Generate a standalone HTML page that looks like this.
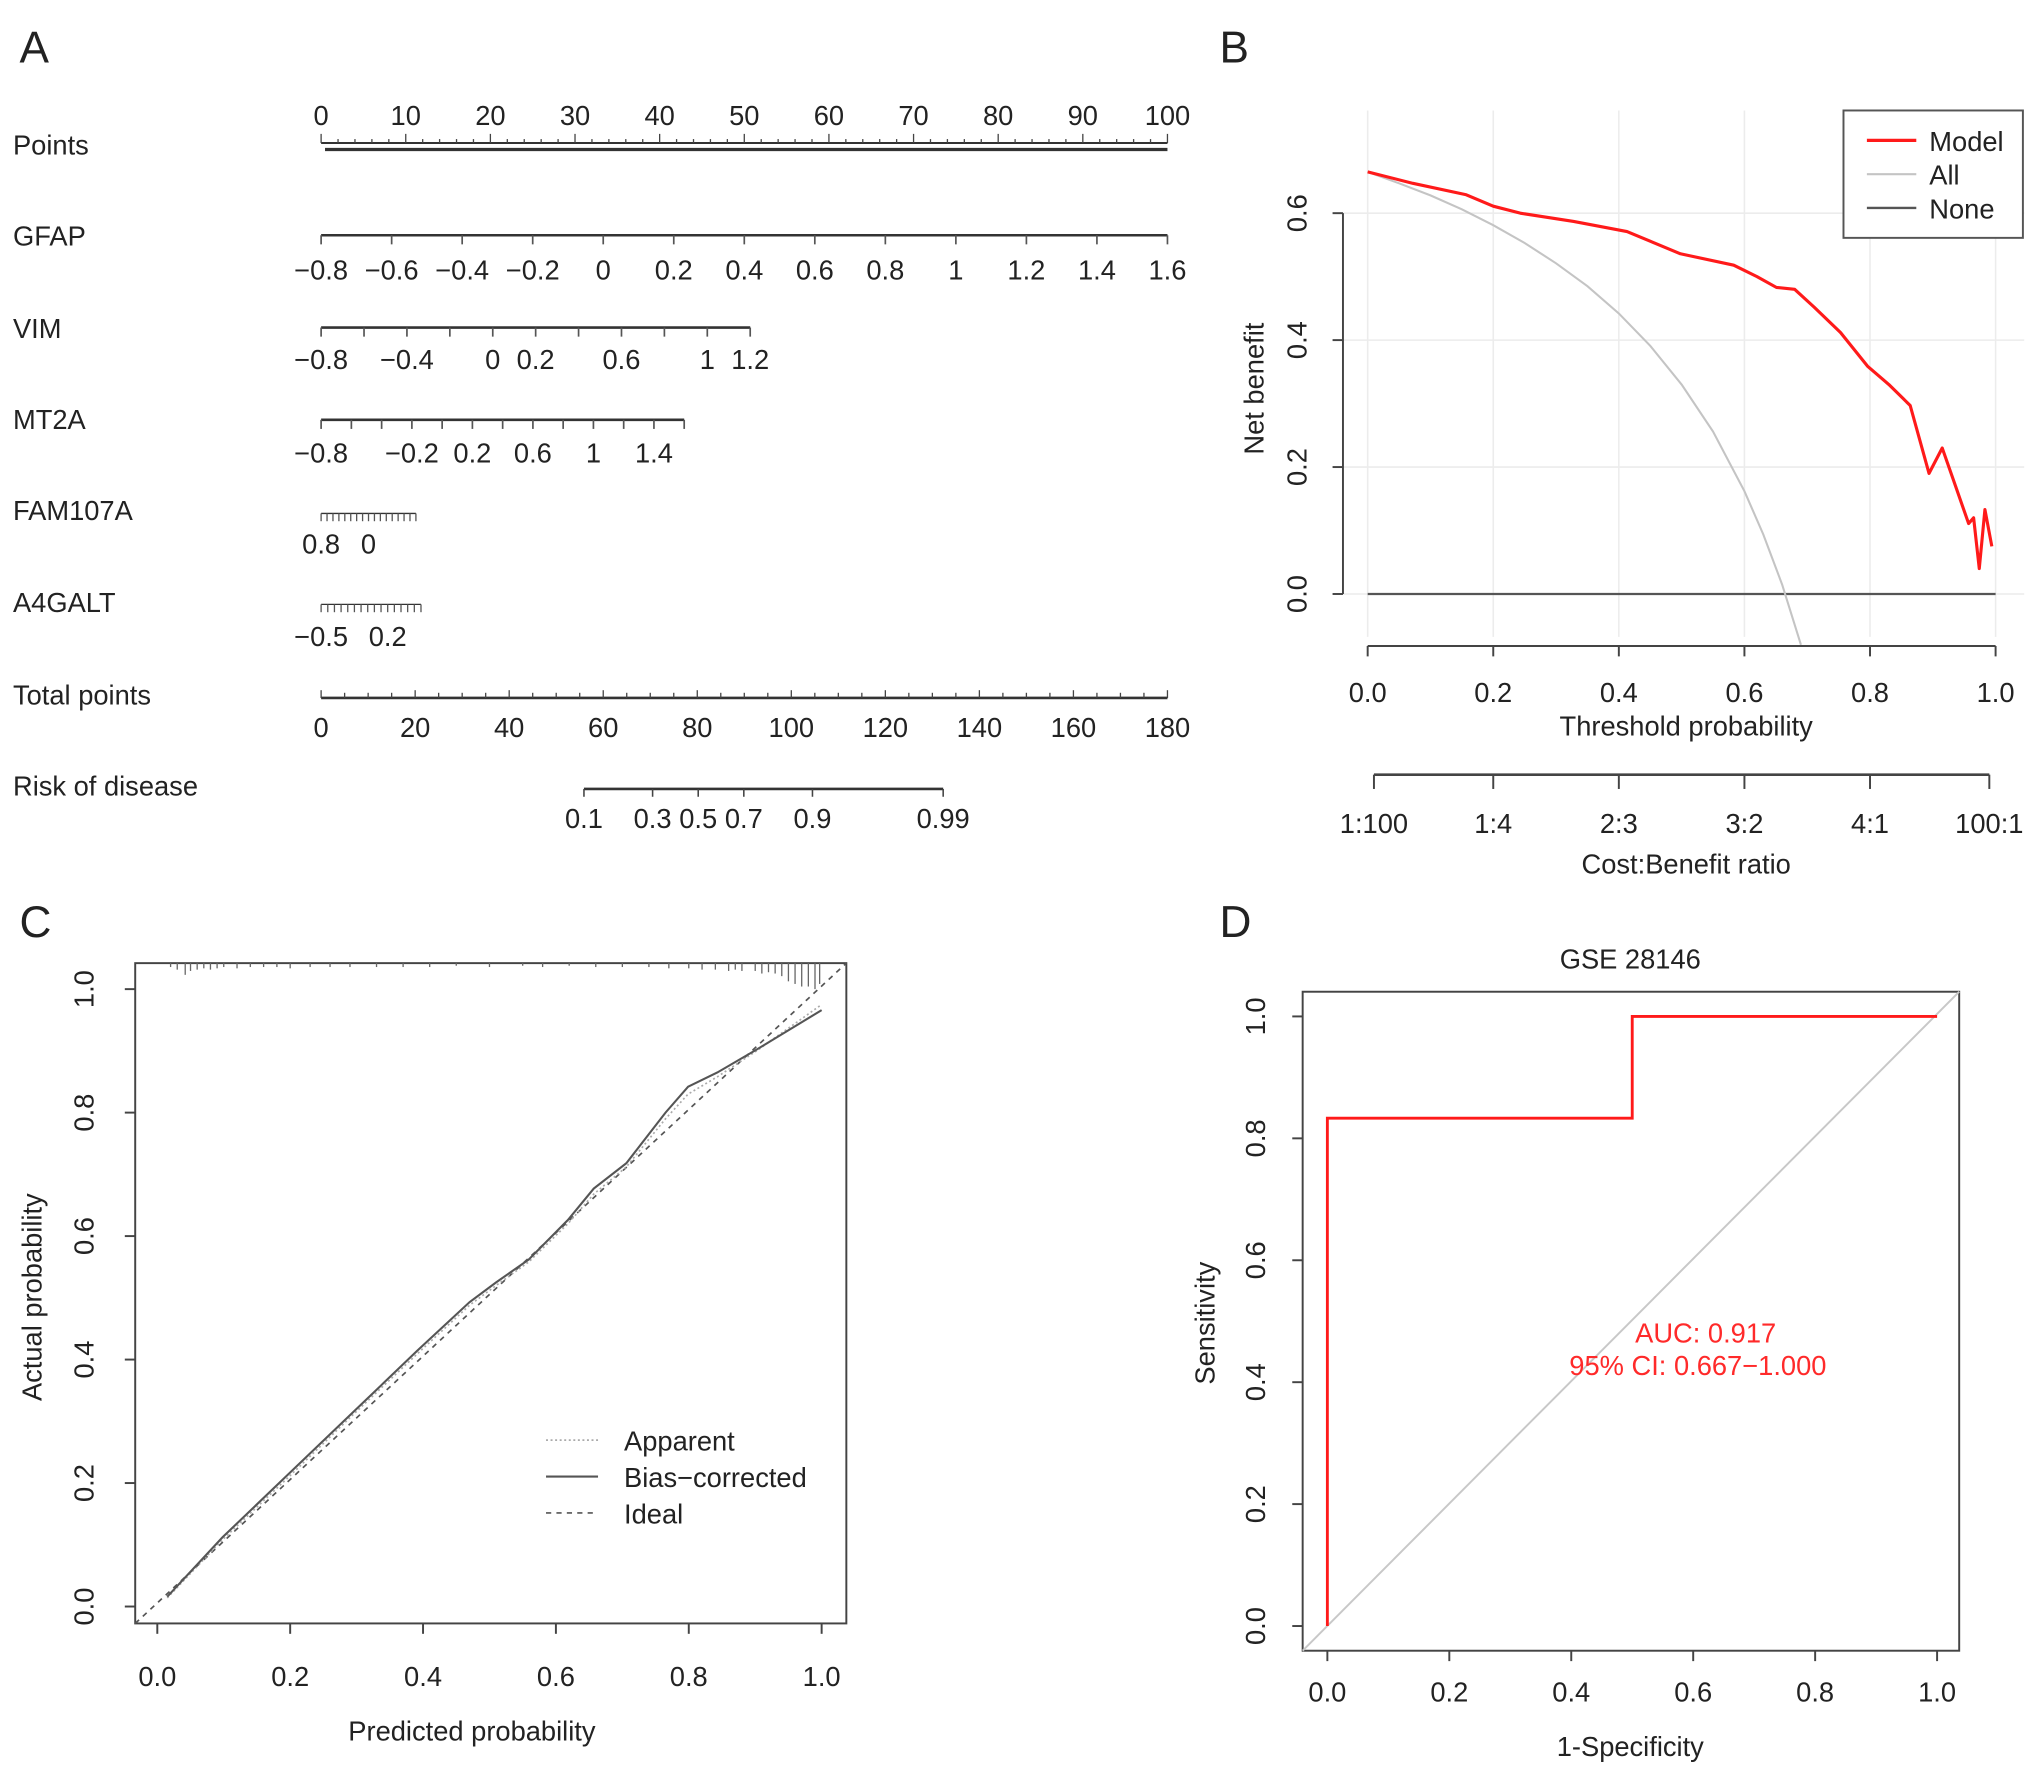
<!DOCTYPE html>
<html><head><meta charset="utf-8"><style>
html,body{margin:0;padding:0;background:#fff;}
svg{display:block;font-family:"Liberation Sans",Arial,sans-serif;}
</style></head>
<body>
<svg id="fig" xmlns="http://www.w3.org/2000/svg" width="2032" height="1769" viewBox="0 0 1563 1361" preserveAspectRatio="none">
<rect x="0" y="0" width="1563" height="1361" fill="#fff"/>
</svg>
<script>
// ---------- Panel A: nomogram data ----------
const pointsTicks=[0,10,20,30,40,50,60,70,80,90,100];
const gfapLabels=[-0.8,-0.6,-0.4,-0.2,0,0.2,0.4,0.6,0.8,1,1.2,1.4,1.6];
const gfapRange=[-0.8,1.6];
const gfapPoints=[0,100];
const vimLabels=[-0.8,-0.4,0,0.2,0.6,1,1.2];
const vimRange=[-0.8,1.2];
const vimPoints=[0,50.7];
const mt2aLabels=[-0.8,-0.2,0.2,0.6,1,1.4];
const mt2aRange=[-0.8,1.6];
const mt2aPoints=[0,42.9];
const famLabels=[0.8,0];
const famRange=[0.8,-0.8];
const famPoints=[0,11.2];
const a4Labels=[-0.5,0.2];
const a4Range=[-0.5,0.55];
const a4Points=[0,11.8];
const totalTicks=[0,20,40,60,80,100,120,140,160,180];
const riskLabels=["0.1","0.3","0.5","0.7","0.9","0.99"];
const riskTotals=[55.9,70.5,80.2,89.9,104.5,132.3];

// ---------- Panel B: decision curve data ----------
const dcaThresh=[0,0.072,0.157,0.2,0.243,0.328,0.413,0.498,0.583,0.62,0.651,0.68,0.711,0.753,0.796,0.83,0.864,0.894,0.915,0.932,0.957,0.965,0.974,0.983,0.994];
const dcaModel=[0.665,0.647,0.629,0.611,0.6,0.587,0.571,0.536,0.518,0.5,0.483,0.48,0.452,0.412,0.359,0.33,0.297,0.19,0.23,0.182,0.111,0.12,0.04,0.133,0.075];
const allThresh=[0,0.05,0.1,0.15,0.2,0.25,0.3,0.35,0.4,0.45,0.5,0.55,0.6,0.63,0.66,0.69];
const allNB=[0.665,0.647,0.628,0.606,0.581,0.553,0.521,0.485,0.442,0.391,0.33,0.256,0.162,0.094,0.015,-0.08];
const dcaXTicks=[0,0.2,0.4,0.6,0.8,1.0];
const dcaYTicks=[0,0.2,0.4,0.6];
const cbLabels=["1:100","1:4","2:3","3:2","4:1","100:1"];
const cbThresh=[0.01,0.2,0.4,0.6,0.8,0.99];

// ---------- Panel C: calibration data ----------
const calPred=[0.015,0.098,0.196,0.294,0.392,0.47,0.51,0.559,0.618,0.657,0.706,0.765,0.799,0.843,0.902,1.0];
const calBias=[0.016,0.112,0.213,0.314,0.415,0.493,0.525,0.562,0.626,0.677,0.718,0.8,0.842,0.865,0.902,0.966];
const calApparent=[0.014,0.108,0.208,0.31,0.41,0.488,0.52,0.558,0.62,0.668,0.712,0.79,0.83,0.858,0.9,0.975];
const rugPred=[0.02,0.03,0.042,0.05,0.06,0.07,0.08,0.09,0.1,0.12,0.14,0.16,0.18,0.2,0.23,0.26,0.29,0.33,0.37,0.41,0.45,0.5,0.55,0.58,0.62,0.66,0.7,0.74,0.77,0.8,0.82,0.84,0.86,0.87,0.88,0.9,0.91,0.92,0.93,0.94,0.95,0.96,0.97,0.98,0.99,0.997];
const rugLen=[3,5,9,6,5,4,5,4,3,4,3,3,3,4,3,3,3,3,3,3,2,3,2,3,2,3,3,3,4,4,5,5,6,5,6,6,8,7,8,10,14,16,18,18,20,16];
const calTicks=[0,0.2,0.4,0.6,0.8,1.0];

// ---------- Panel D: ROC data ----------
const rocFPR=[0,0,0.5,0.5,1];
const rocTPR=[0,0.833,0.833,1,1];
const rocTicks=[0,0.2,0.4,0.6,0.8,1.0];

const svg=document.getElementById('fig');
const NS='http://www.w3.org/2000/svg';
const INK='#222';
function add(tag,attrs,name,text){
  const el=document.createElementNS(NS,tag);
  for(const k in attrs) el.setAttribute(k,attrs[k]);
  
  
  if(text!==undefined) el.textContent=text;
  svg.appendChild(el);
  return el;
}
function ln(x1,y1,x2,y2,name,stroke,w,extra){
  const a={x1:x1,y1:y1,x2:x2,y2:y2,stroke:stroke||'#333','stroke-width':w||1.5};
  if(extra) for(const k in extra) a[k]=extra[k];
  return add('line',a,name);
}
function tx(x,y,s,name,size,anchor,extra){
  const a={x:x,y:y,'font-size':size||21,'text-anchor':anchor||'middle',fill:INK};
  if(extra) for(const k in extra) a[k]=extra[k];
  return add('text',a,name,s);
}
function fmt(v){return (v<0?'\u2212':'')+Math.abs(v).toString();}
function fmt1(v){return v.toFixed(1);}

// ===== Panel A =====
tx(15,48,'A','panel-label-a',34,'start');
const AX0=247, AX1=898;
const ptX=p=>AX0+(AX1-AX0)*p/100;
const rowNames=['Points','GFAP','VIM','MT2A','FAM107A','A4GALT','Total points','Risk of disease'];
const rowY=[119,189,260,330,400,471,542,612];
rowNames.forEach((n,i)=>{tx(10,rowY[i],n,'row-label-'+n.toLowerCase().replace(/ /g,'-'),21,'start');});
ln(ptX(0),110,ptX(100),110,'points-axis-line','#333',1.5);
ln(ptX(0)+3,115,ptX(100),115,'points-axis-line-lower','#333',2.5);
for(let v=0;v<=100;v+=2){const maj=v%10===0;ln(ptX(v),110,ptX(v),maj?103:107,'points-tick','#444',1);}
pointsTicks.forEach(v=>tx(ptX(v),96,String(v),'points-tick-label',21));
function varAxis(key,y,range,pts,labels,step,lblY,fine){
  const toX=v=>ptX(pts[0]+(pts[1]-pts[0])*(v-range[0])/(range[1]-range[0]));
  ln(toX(range[0]),y,toX(range[1]),y,key+'-axis-line','#333',fine?1:2);
  const lo=Math.min(range[0],range[1]),hi=Math.max(range[0],range[1]);
  for(let v=lo;v<=hi+1e-9;v+=step){ln(toX(v),y,toX(v),y+(fine?6:7),key+'-tick','#555',fine?1:1.3);}
  labels.forEach(v=>tx(toX(v),lblY,fmt(v),key+'-tick-label',21));
}
varAxis('gfap',181,gfapRange,gfapPoints,gfapLabels,0.2,215,false);
varAxis('vim',252,vimRange,vimPoints,vimLabels,0.2,284,false);
varAxis('mt2a',323,mt2aRange,mt2aPoints,mt2aLabels,0.2,356,false);
varAxis('fam107a',395,famRange,famPoints,famLabels,0.1,426,true);
varAxis('a4galt',465,a4Range,a4Points,a4Labels,0.07,497,true);
const totX=t=>AX0+(AX1-AX0)*t/180;
ln(totX(0),537,totX(180),537,'total-points-axis-line','#333',2);
for(let v=0;v<=180;v+=5){ln(totX(v),537,totX(v),v%20===0?531:533,'total-points-tick','#444',1);}
totalTicks.forEach(v=>tx(totX(v),567,String(v),'total-points-tick-label',21));
ln(totX(riskTotals[0]),607,totX(riskTotals[riskTotals.length-1]),607,'risk-axis-line','#333',2);
riskTotals.forEach((t,i)=>{ln(totX(t),607,totX(t),613,'risk-tick','#444',1.2);tx(totX(t),637,riskLabels[i],'risk-tick-label',21);});

// ===== Panel B =====
tx(938,48,'B','panel-label-b',34,'start');
const BX0=1052,BX1=1535,BY0=457,BY1=164;
const bx=v=>BX0+(BX1-BX0)*v;
const by=v=>BY0-(BY0-BY1)*v/0.6;
dcaXTicks.forEach(v=>ln(bx(v),85,bx(v),490,'dca-grid-vertical','#ececec',1.2));
[0,0.2,0.4,0.6].forEach(v=>ln(1033,by(v),1557,by(v),'dca-grid-horizontal','#ececec',1.2));
ln(1033,by(0),1033,by(0.6),'dca-y-axis-line','#444',1.5);
dcaYTicks.forEach(v=>{ln(1025,by(v),1033,by(v),'dca-y-tick','#444',1.5);tx(0,0,fmt1(v),'dca-y-tick-label',21,'middle',{transform:`translate(1005,${by(v)}) rotate(-90)`});});
ln(bx(0),497,bx(1),497,'dca-x-axis-line','#444',1.5);
dcaXTicks.forEach(v=>{ln(bx(v),497,bx(v),505,'dca-x-tick','#444',1.5);tx(bx(v),540,fmt1(v),'dca-x-tick-label',21);});
tx(1297,566,'Threshold probability','dca-x-axis-title',21);
tx(0,0,'Net benefit','dca-y-axis-title',21,'middle',{transform:'translate(972,299) rotate(-90)'});
ln(bx(cbThresh[0]),596,bx(cbThresh[5]),596,'cost-benefit-axis-line','#444',2);
cbThresh.forEach((t,i)=>{ln(bx(t),596,bx(t),607,'cost-benefit-tick','#444',1.5);tx(bx(t),641,cbLabels[i],'cost-benefit-tick-label',21);});
tx(1297,672,'Cost:Benefit ratio','cost-benefit-axis-title',21);
ln(bx(0),by(0),bx(1),by(0),'dca-none-line','#555',1.8);
add('polyline',{points:allThresh.map((t,i)=>bx(t)+','+by(allNB[i])).join(' '),fill:'none',stroke:'#c4c4c4','stroke-width':1.6},'dca-all-curve');
add('polyline',{points:dcaThresh.map((t,i)=>bx(t)+','+by(dcaModel[i])).join(' '),fill:'none',stroke:'#ff1a1a','stroke-width':2.4,'stroke-linejoin':'round'},'dca-model-curve');
add('rect',{x:1418,y:85,width:138,height:98,fill:'#fff',stroke:'#555','stroke-width':1.5},'dca-legend-box');
ln(1436,108,1474,108,'legend-model-swatch','#ff1a1a',2.5);
tx(1484,116,'Model','legend-model-label',21,'start');
ln(1436,134,1474,134,'legend-all-swatch','#c4c4c4',1.6);
tx(1484,142,'All','legend-all-label',21,'start');
ln(1436,160,1474,160,'legend-none-swatch','#555',1.8);
tx(1484,168,'None','legend-none-label',21,'start');

// ===== Panel C =====
tx(15,721,'C','panel-label-c',34,'start');
const CX0=121,CX1=632,CY0=1236,CY1=761;
const cx=v=>CX0+(CX1-CX0)*v;
const cy=v=>CY0-(CY0-CY1)*v;
add('rect',{x:104,y:741,width:547,height:508,fill:'none',stroke:'#444','stroke-width':1.5},'calibration-plot-box');
calTicks.forEach(v=>{ln(cx(v),1249,cx(v),1257,'cal-x-tick','#444',1.5);tx(cx(v),1297,fmt1(v),'cal-x-tick-label',21);});
calTicks.forEach(v=>{ln(96,cy(v),104,cy(v),'cal-y-tick','#444',1.5);tx(0,0,fmt1(v),'cal-y-tick-label',21,'middle',{transform:`translate(72,${cy(v)}) rotate(-90)`});});
tx(363,1339,'Predicted probability','cal-x-axis-title',21);
tx(0,0,'Actual probability','cal-y-axis-title',21,'middle',{transform:'translate(32,998) rotate(-90)'});
rugPred.forEach((p,i)=>ln(cx(p),741,cx(p),741+rugLen[i],'rug-tick','#666',1));
ln(104,1249,651,741,'ideal-line','#555',1.3,{'stroke-dasharray':'4,4'});
add('polyline',{points:calPred.map((p,i)=>cx(p)+','+cy(calApparent[i])).join(' '),fill:'none',stroke:'#aaa','stroke-width':1.3,'stroke-dasharray':'1.5,2'},'apparent-curve');
add('polyline',{points:calPred.map((p,i)=>cx(p)+','+cy(calBias[i])).join(' '),fill:'none',stroke:'#555','stroke-width':1.6},'bias-corrected-curve');
ln(420,1108,460,1108,'legend-apparent-swatch','#aaa',1.3,{'stroke-dasharray':'1.5,2'});
tx(480,1116,'Apparent','legend-apparent-label',21,'start');
ln(420,1136,460,1136,'legend-bias-swatch','#555',1.6);
tx(480,1144,'Bias\u2212corrected','legend-bias-label',21,'start');
ln(420,1164,460,1164,'legend-ideal-swatch','#555',1.3,{'stroke-dasharray':'4,4'});
tx(480,1172,'Ideal','legend-ideal-label',21,'start');

// ===== Panel D =====
tx(938,721,'D','panel-label-d',34,'start');
const DX0=1021,DX1=1490,DY0=1251,DY1=782;
const dx=v=>DX0+(DX1-DX0)*v;
const dy=v=>DY0-(DY0-DY1)*v;
add('rect',{x:1002,y:763,width:505,height:507,fill:'none',stroke:'#444','stroke-width':1.5},'roc-plot-box');
tx(1254,745,'GSE 28146','roc-title',21);
rocTicks.forEach(v=>{ln(dx(v),1270,dx(v),1278,'roc-x-tick','#444',1.5);tx(dx(v),1309,fmt1(v),'roc-x-tick-label',21);});
rocTicks.forEach(v=>{ln(994,dy(v),1002,dy(v),'roc-y-tick','#444',1.5);tx(0,0,fmt1(v),'roc-y-tick-label',21,'middle',{transform:`translate(973,${dy(v)}) rotate(-90)`});});
tx(1254,1351,'1-Specificity','roc-x-axis-title',21);
tx(0,0,'Sensitivity','roc-y-axis-title',21,'middle',{transform:'translate(934,1018) rotate(-90)'});
ln(1002,1270,1507,763,'roc-diagonal','#c8c8c8',1.5);
add('polyline',{points:rocFPR.map((f,i)=>dx(f)+','+dy(rocTPR[i])).join(' '),fill:'none',stroke:'#ff1a1a','stroke-width':2.2},'roc-curve');
tx(1312,1033,'AUC: 0.917','auc-label',21,'middle',{fill:'#ff2a2a'});
tx(1306,1058,'95% CI: 0.667\u22121.000','ci-label',21,'middle',{fill:'#ff2a2a'});
</script>
</body></html>
